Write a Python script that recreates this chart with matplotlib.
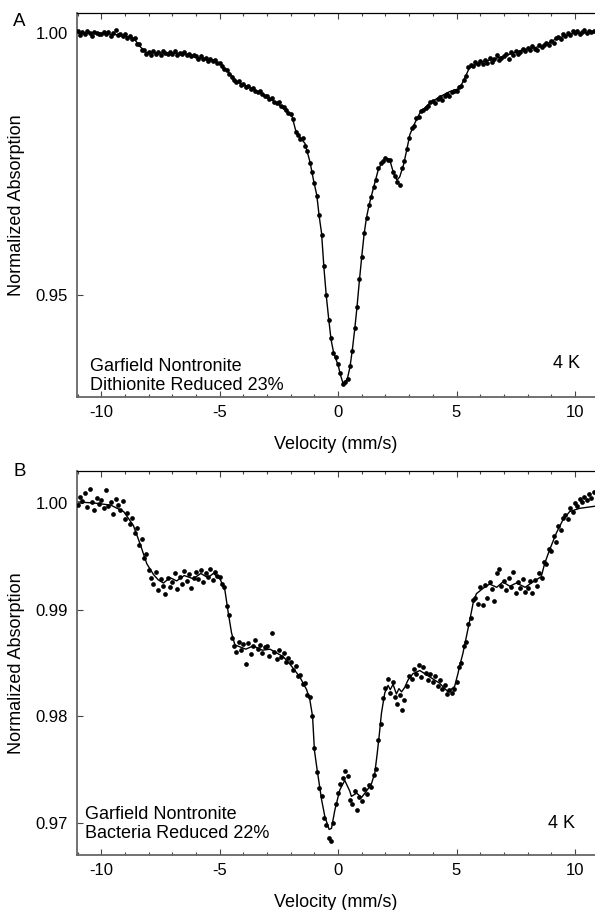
import numpy as np
import matplotlib
matplotlib.use("Agg")
import matplotlib.pyplot as plt
from matplotlib.ticker import MultipleLocator, FormatStrFormatter

plt.rcParams['font.family'] = ['Liberation Sans', 'DejaVu Sans']
plt.rcParams['axes.unicode_minus'] = False

# velocity channels (mm/s), same for both spectra
vel = np.round(np.arange(-11.0, 10.85, 0.1), 2)

# panel A: dithionite reduced, measured points (absorption x 1e4)
a_pts = [
    10003, 9996, 10001, 9998, 10004, 9999, 9995, 10002, 10000, 9997,
    9998, 10002, 9997, 10001, 9995, 9999, 10005, 9996, 9998, 9994,
    9997, 9991, 9995, 9988, 9990, 9979, 9978, 9968, 9967, 9959,
    9964, 9958, 9965, 9960, 9963, 9957, 9966, 9961, 9959, 9964,
    9960, 9965, 9958, 9962, 9959, 9963, 9957, 9960, 9955, 9958,
    9956, 9951, 9955, 9950, 9953, 9947, 9951, 9946, 9948, 9943,
    9943, 9937, 9931, 9929, 9922, 9916, 9911, 9906, 9908, 9900,
    9902, 9897, 9899, 9893, 9895, 9890, 9887, 9889, 9883, 9880,
    9879, 9873, 9875, 9868, 9866, 9869, 9861, 9858, 9853, 9848,
    9845, 9836, 9810, 9805, 9798, 9799, 9785, 9774, 9752, 9734,
    9713, 9688, 9652, 9615, 9555, 9500, 9452, 9417, 9390, 9382,
    9368, 9350, 9329, 9334, 9340, 9364, 9392, 9436, 9476, 9530,
    9572, 9619, 9646, 9672, 9686, 9705, 9720, 9742, 9751, 9756,
    9762, 9758, 9757, 9735, 9727, 9716, 9710, 9742, 9755, 9779,
    9800, 9818, 9822, 9837, 9840, 9851, 9852, 9857, 9861, 9868,
    9870, 9866, 9874, 9877, 9872, 9880, 9884, 9879, 9887, 9890,
    9889, 9896, 9898, 9911, 9918, 9934, 9938, 9936, 9944, 9940,
    9946, 9941, 9948, 9943, 9952, 9945, 9950, 9957, 9949, 9953,
    9955, 9960, 9951, 9963, 9958, 9966, 9960, 9964, 9970, 9966,
    9972, 9967, 9975, 9970, 9968, 9977, 9973, 9976, 9981, 9976,
    9985, 9981, 9990, 9993, 9988, 9997, 9994, 10000, 9996, 10003,
    9999, 10004, 9998, 10002, 10005, 9999, 10003, 10001, 10004,
]

# panel A: fitted curve
a_fit_v = [-11.0, -10.0, -9.2, -8.64, -8.37, -8.08, -7.24, -6.54, -5.84, -5.13,
           -4.71, -4.29, -3.73, -3.15, -2.59, -2.18, -1.97, -1.8, -1.6, -1.4,
           -1.19, -1.04, -0.9, -0.8, -0.7, -0.6, -0.5, -0.4, -0.3, -0.2,
           -0.1, 0.0, 0.1, 0.2, 0.3, 0.4, 0.5, 0.6, 0.7, 0.8,
           0.9, 1.0, 1.1, 1.2, 1.3, 1.4, 1.55, 1.69, 1.83, 2.04,
           2.18, 2.33, 2.48, 2.6, 2.76, 2.9, 3.03, 3.24, 3.45, 3.87,
           4.29, 4.71, 5.13, 5.35, 5.55, 6.12, 6.96, 7.81, 8.65, 9.22,
           9.93, 10.85]
a_fit = [10000, 9999, 9996, 9990, 9974, 9962, 9962, 9961, 9952, 9945,
         9929, 9907, 9896, 9882, 9866, 9850, 9845, 9815, 9800, 9789,
         9754, 9719, 9690, 9650, 9618, 9552, 9498, 9455, 9415, 9392,
         9378, 9366, 9347, 9332, 9333, 9342, 9362, 9395, 9434, 9478,
         9528, 9574, 9617, 9648, 9670, 9688, 9714, 9738, 9751, 9761,
         9758, 9734, 9719, 9725, 9748, 9777, 9806, 9828, 9847, 9866,
         9878, 9888, 9894, 9914, 9934, 9945, 9955, 9968, 9975, 9989,
         9999, 10001]

# panel B: bacteria reduced, measured points (absorption x 1e4)
b_pts = [
    9998, 10006, 10002, 10009, 9996, 10013, 10001, 9993, 10005, 9999,
    10003, 9995, 10012, 9997, 10001, 9990, 10004, 9998, 9993, 10002,
    9985, 9991, 9980, 9986, 9972, 9977, 9961, 9966, 9948, 9952,
    9937, 9930, 9924, 9935, 9918, 9929, 9922, 9915, 9930, 9921,
    9926, 9934, 9919, 9931, 9924, 9936, 9927, 9933, 9920, 9930,
    9935, 9929, 9937, 9926, 9934, 9931, 9938, 9928, 9935, 9932,
    9931, 9924, 9921, 9903, 9895, 9873, 9866, 9860, 9870, 9862,
    9868, 9849, 9869, 9858, 9866, 9872, 9863, 9867, 9859, 9865,
    9866, 9857, 9878, 9860, 9854, 9862, 9856, 9859, 9851, 9855,
    9851, 9843, 9847, 9838, 9839, 9830, 9831, 9820, 9818, 9800,
    9770, 9748, 9733, 9725, 9705, 9698, 9686, 9683, 9700, 9718,
    9728, 9737, 9742, 9749, 9744, 9722, 9718, 9730, 9712, 9724,
    9721, 9732, 9727, 9736, 9734, 9745, 9751, 9778, 9793, 9817,
    9827, 9835, 9822, 9832, 9818, 9812, 9820, 9806, 9815, 9828,
    9838, 9835, 9844, 9840, 9848, 9837, 9846, 9841, 9834, 9840,
    9832, 9838, 9828, 9834, 9826, 9829, 9821, 9825, 9822, 9826,
    9832, 9846, 9850, 9866, 9870, 9887, 9892, 9909, 9911, 9905,
    9921, 9904, 9923, 9911, 9926, 9919, 9908, 9934, 9938, 9922,
    9927, 9918, 9930, 9921, 9935, 9916, 9926, 9920, 9929, 9917,
    9920, 9927, 9916, 9928, 9922, 9934, 9930, 9945, 9943, 9957,
    9955, 9969, 9963, 9978, 9975, 9986, 9989, 9985, 9995, 9992,
    10000, 9997, 10004, 10001, 10006, 10003, 10008, 10005, 10010,
]

# panel B: fitted curve
b_fit_v = [-11.0, -10.3, -9.6, -9.06, -8.65, -8.37, -8.08, -7.8, -7.6, -7.38,
           -7.1, -6.82, -6.5, -6.12, -5.8, -5.5, -5.27, -4.99, -4.78, -4.64,
           -4.5, -4.36, -3.9, -3.59, -3.2, -2.88, -2.32, -2.0, -1.62, -1.33,
           -1.19, -1.08, -1.0, -0.9, -0.8, -0.7, -0.56, -0.38, -0.28, -0.14,
           0.07, 0.28, 0.49, 0.56, 0.78, 0.99, 1.2, 1.41, 1.55, 1.65,
           1.73, 1.83, 1.97, 2.11, 2.2, 2.32, 2.46, 2.57, 2.68, 2.81,
           2.95, 3.16, 3.45, 3.87, 4.29, 4.64, 4.92, 5.06, 5.13, 5.27,
           5.42, 5.56, 5.7, 5.84, 6.12, 6.4, 6.7, 6.96, 7.25, 7.53,
           7.9, 8.23, 8.58, 8.72, 8.93, 9.22, 9.49, 9.78, 10.2, 10.85]
b_fit = [10001, 10000, 9998, 9992, 9979, 9962, 9943, 9933, 9928, 9925,
         9930, 9927, 9932, 9929, 9934, 9930, 9934, 9929, 9918, 9897,
         9878, 9867, 9863, 9866, 9862, 9863, 9856, 9848, 9837, 9825,
         9815, 9800, 9768, 9752, 9737, 9722, 9706, 9694, 9695, 9712,
         9731, 9740, 9730, 9725, 9728, 9724, 9730, 9737, 9747, 9765,
         9781, 9803, 9822, 9829, 9825, 9830, 9821, 9826, 9823, 9827,
         9834, 9840, 9843, 9837, 9831, 9823, 9828, 9840, 9847, 9859,
         9875, 9890, 9906, 9915, 9920, 9924, 9921, 9926, 9922, 9925,
         9921, 9926, 9931, 9943, 9956, 9972, 9984, 9992, 9995, 9997]

panels = [
    ("A", a_pts, a_fit_v, a_fit, (0.9305, 1.0038), [0.95, 1.00],
     "Garfield Nontronite\nDithionite Reduced 23%"),
    ("B", b_pts, b_fit_v, b_fit, (0.967, 1.003), [0.97, 0.98, 0.99, 1.00],
     "Garfield Nontronite\nBacteria Reduced 22%"),
]

# per-panel text placement (axes fraction)
tag_y = [0.978, 0.999]
note_xy = [(0.025, 0.008), (0.0155, 0.034)]
temp_xy = [(0.971, 0.0885), (0.961, 0.083)]

fig = plt.figure(figsize=(5.95, 9.10), dpi=100)
boxes = [[0.1294, 0.5637, 0.8706, 0.422], [0.1294, 0.0604, 0.8706, 0.422]]

for i, (tag, pts, fv, fy, ylim, yt, note) in enumerate(panels):
    ax = fig.add_axes(boxes[i])
    ax.plot(np.array(fv), np.array(fy) / 1e4, color='black', lw=1.0, zorder=2)
    ax.plot(vel, np.array(pts) / 1e4, 'o', color='black', ms=3.4,
            mew=0, zorder=3)
    ax.set_xlim(-11.03, 10.85)
    ax.set_ylim(*ylim)
    ax.set_yticks(yt)
    ax.yaxis.set_major_formatter(FormatStrFormatter('%.2f'))
    ax.xaxis.set_major_locator(MultipleLocator(5))
    ax.xaxis.set_minor_locator(MultipleLocator(1))
    ax.tick_params(axis='x', which='both', direction='in', top=True,
                   labelsize=12, pad=6, color='#444444')
    ax.tick_params(axis='x', which='major', length=4.5, width=0.8)
    ax.tick_params(axis='x', which='minor', length=2.5, width=0.8)
    ax.tick_params(axis='y', direction='in', length=4, width=0.8,
                   labelsize=12, pad=6.5, color='#444444')
    ax.spines['right'].set_visible(False)
    ax.spines['top'].set_color('black')
    ax.spines['top'].set_linewidth(0.9)
    for s in ('left', 'bottom'):
        ax.spines[s].set_color('#666666')
        ax.spines[s].set_linewidth(1.3)
    ax.set_xlabel("Velocity (mm/s)", fontsize=13)
    ax.xaxis.set_label_coords(0.5, -0.101)
    ax.set_ylabel("Normalized Absorption", fontsize=13)
    ax.yaxis.set_label_coords(-0.100, 0.5)
    ax.text(-0.111, tag_y[i], tag, transform=ax.transAxes, fontsize=13.5,
            ha='center', va='center')
    ax.text(note_xy[i][0], note_xy[i][1], note, transform=ax.transAxes,
            fontsize=13, ha='left', va='bottom', linespacing=1.12)
    ax.text(temp_xy[i][0], temp_xy[i][1], "4 K", transform=ax.transAxes,
            fontsize=13, ha='right', va='center')

fig.savefig("out.png", dpi=100)
